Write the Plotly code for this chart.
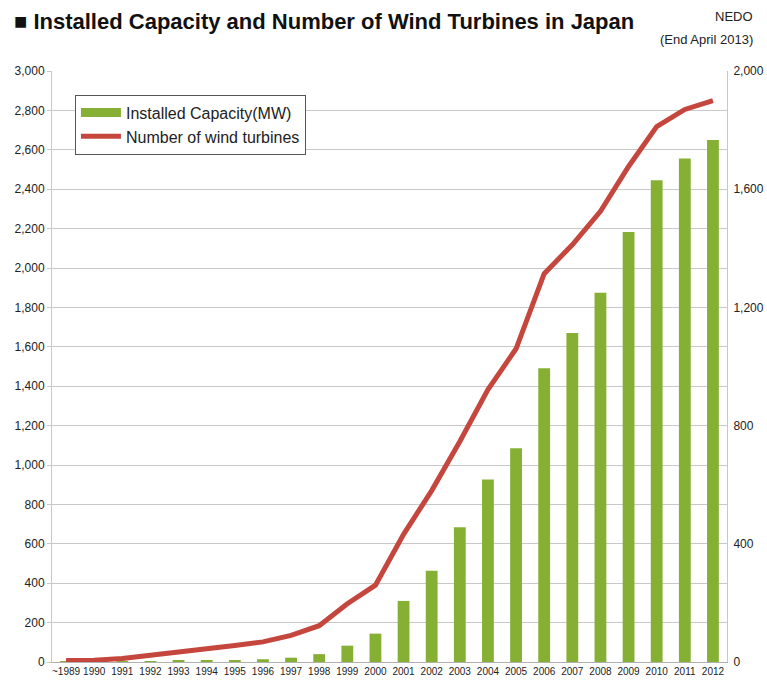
import plotly.graph_objects as go

years = ["~1989", "1990", "1991", "1992", "1993", "1994", "1995", "1996", "1997", "1998",
         "1999", "2000", "2001", "2002", "2003", "2004", "2005", "2006", "2007", "2008",
         "2009", "2010", "2011", "2012"]
capacity_mw = [1, 1, 1, 3, 6, 8, 10, 14, 22, 40,
               83, 144, 310, 463, 684, 927, 1085, 1491, 1670, 1875,
               2183, 2445, 2556, 2650]
turbines = [5, 6, 12, 22, 33, 45, 56, 68, 90, 123,
            197, 260, 432, 580, 746, 922, 1060, 1314, 1412, 1525,
            1677, 1812, 1870, 1900]
left_ticks = list(range(0, 3001, 200))
right_ticks = list(range(0, 2001, 400))

BAR_GREEN = "#86b034"
LINE_RED = "#c4463d"
NARROW = "Liberation Sans Narrow, Liberation Sans, Arial, sans-serif"

fig = go.Figure()
fig.add_trace(go.Bar(
    x=years, y=capacity_mw, name="Installed Capacity(MW)",
    marker=dict(color=BAR_GREEN, line=dict(width=0)),
    width=0.42, showlegend=False,
))
fig.add_trace(go.Scatter(
    x=years, y=turbines, name="Number of wind turbines", yaxis="y2",
    mode="lines", line=dict(color=LINE_RED, width=5), showlegend=False,
))
# legend entries (legend-only)
fig.add_trace(go.Scatter(
    x=[None], y=[None], name="Installed Capacity(MW)", mode="lines",
    line=dict(color=BAR_GREEN, width=9),
))
fig.add_trace(go.Scatter(
    x=[None], y=[None], name="Number of wind turbines", mode="lines", yaxis="y2",
    line=dict(color=LINE_RED, width=5),
))

fig.update_layout(
    width=767, height=681,
    margin=dict(l=52, r=40, t=71, b=19),
    paper_bgcolor="white", plot_bgcolor="white",
    font=dict(family="Liberation Sans, Arial, sans-serif", color="#222"),
    showlegend=True,
    legend=dict(
        x=0.034, y=0.96, xanchor="left", yanchor="top",
        bordercolor="#555", borderwidth=1, bgcolor="white",
        font=dict(size=16, family=NARROW, color="#222"),
        tracegroupgap=4, itemwidth=40,
    ),
    xaxis=dict(
        type="category", showgrid=False, showline=True, linecolor="#b0b0b0",
        linewidth=1, ticks="", tickangle=0, automargin=False,
        tickfont=dict(size=10, family=NARROW),
        range=[-0.5, 23.5],
    ),
    yaxis=dict(
        range=[0, 3000], tickvals=left_ticks, automargin=False,
        ticktext=[f"{v:,}" for v in left_ticks],
        showgrid=True, gridcolor="#c8c8c8", gridwidth=1,
        showline=True, linecolor="#c8c8c8", ticks="outside", ticklen=4,
        tickcolor="#c8c8c8", tickfont=dict(size=12), zeroline=False,
    ),
    yaxis2=dict(
        range=[0, 2000], tickvals=right_ticks, automargin=False,
        ticktext=[f"{v:,}" for v in right_ticks],
        overlaying="y", side="right", showgrid=False,
        showline=True, linecolor="#c8c8c8", ticks="outside", ticklen=3,
        tickcolor="#ffffff", tickfont=dict(size=12), zeroline=False,
    ),
    annotations=[
        dict(text="<b>■ Installed Capacity and Number of Wind Turbines in Japan</b>",
             xref="paper", yref="paper", x=-0.06, y=1.083, xanchor="left", yanchor="middle",
             showarrow=False,
             font=dict(size=22, family=NARROW, color="#111")),
        dict(text="NEDO", xref="paper", yref="paper",
             x=1.0415, y=1.0914, xanchor="right", yanchor="middle", align="right",
             showarrow=False,
             font=dict(size=13, family=NARROW, color="#222")),
        dict(text="(End April 2013)", xref="paper", yref="paper",
             x=1.0415, y=1.0525, xanchor="right", yanchor="middle", align="right",
             showarrow=False,
             font=dict(size=13, family=NARROW, color="#222")),
    ],
)

fig.write_html(
    "out.html",
    config={"displayModeBar": False},
    post_script="document.body.style.margin='0';document.body.style.overflow='hidden';",
)
